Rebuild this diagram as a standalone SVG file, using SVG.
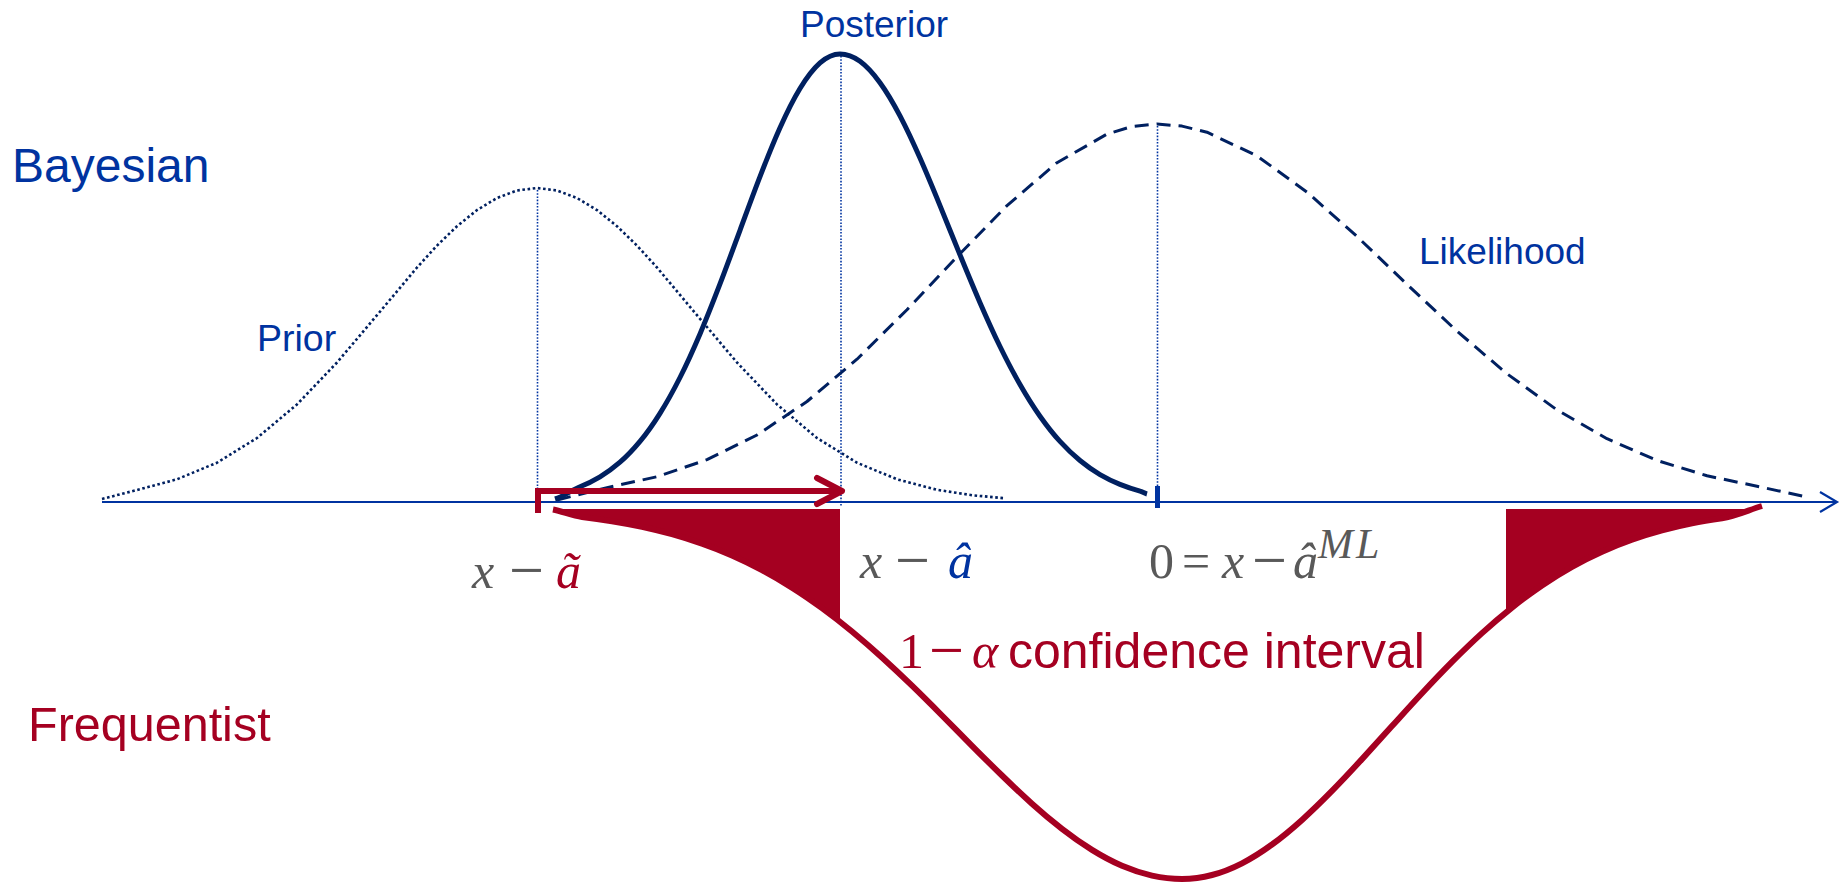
<svg xmlns="http://www.w3.org/2000/svg" width="1845" height="884" viewBox="0 0 1845 884">
<style>
.lbl{font-family:"Liberation Sans",Arial,sans-serif}
.blue{fill:#0033a0}
.red{fill:#a50021}
.math{font-family:"Liberation Serif","DejaVu Serif",serif;font-size:50px;fill:#595959}
.it{font-style:italic}
.minus{font-size:62px}
.curve{fill:none;stroke:#002060;stroke-linejoin:round}
.vdot{stroke:#0033a0;stroke-width:1.6;stroke-dasharray:1.6 1.6;fill:none}
</style>
<rect width="1845" height="884" fill="#ffffff"/>

<g id="axis">
<line x1="102" y1="502" x2="1836" y2="502" stroke="#0033a0" stroke-width="2.2"/>
<path d="M1820,492 L1837,502 L1820,512" fill="none" stroke="#0033a0" stroke-width="2.2"/>
<rect x="1155" y="486" width="5" height="22" fill="#0033a0"/>
</g>

<g id="guides">
<line class="vdot" x1="537.5" y1="190" x2="537.5" y2="488"/>
<line class="vdot" x1="841" y1="56" x2="841" y2="507"/>
<line class="vdot" x1="1157.5" y1="126" x2="1157.5" y2="486"/>
</g>

<g id="frequentist-curve">
<path class="red" d="M553,509.5 C562.7,511.4 572.3,515.8 582,517 C592,518.2 602,519.6 612,521.2 C622,522.8 632,524.7 642,526.8 C652,529 662,531.4 672,534.2 C682,537 692,540.2 702,543.7 C712,547.2 722,551.1 732,555.5 C742,559.9 752,564.8 762,570.1 C772,575.4 782,581.3 792,587.6 C802,593.9 812,600.8 822,608.1 L840,622 L840,509 L556,509 Z"/>
<path class="red" d="M1506,612.7 L1512,607.6 C1522,599.6 1532,592.2 1542,585.4 C1552,578.6 1562,572.4 1572,566.8 C1582,561.2 1592,556.2 1602,551.7 C1612,547.2 1622,543.2 1632,539.7 C1642,536.2 1652,533.1 1662,530.4 C1672,527.7 1682,525.3 1692,523.3 C1702,521.3 1712,519.7 1722,518.2 C1735.3,516.3 1748.7,510 1762,506 L1750,509 L1506,509 Z"/>
<path fill="none" stroke="#a50021" stroke-width="6" stroke-linejoin="round" d="M553,509.5 C562.7,511.4 572.3,515.8 582,517 C592,518.2 602,519.6 612,521.2 C622,522.8 632,524.7 642,526.8 C652,529 662,531.4 672,534.2 C682,537 692,540.2 702,543.7 C712,547.2 722,551.1 732,555.5 C742,559.9 752,564.8 762,570.1 C772,575.4 782,581.3 792,587.6 C802,593.9 812,600.8 822,608.1 C832,615.4 842,623.2 852,631.5 C862,639.8 872,648.4 882,657.5 C892,666.6 902,676 912,685.7 C922,695.4 932,705.4 942,715.5 C952,725.6 962,735.7 972,745.8 C982,755.9 992,765.8 1002,775.5 C1012,785.2 1022,794.8 1032,803.7 C1042,812.7 1052,821.1 1062,828.9 C1072,836.7 1082,843.7 1092,849.9 C1102,856.1 1112,861.5 1122,865.8 C1132,870.1 1142,873.4 1152,875.6 C1162,877.8 1172,879 1182,879 C1192,879 1202,877.7 1212,875 C1222,872.4 1232,868.4 1242,863.3 C1252,858.2 1262,851.8 1272,844.5 C1282,837.2 1292,828.9 1302,819.9 C1312,810.9 1322,801.1 1332,790.9 C1342,780.7 1352,770 1362,759.1 C1372,748.2 1382,737.1 1392,726 C1402,715 1412,703.9 1422,693.2 C1432,682.5 1442,672 1452,661.9 C1462,651.9 1472,642.2 1482,633.1 C1492,624 1502,615.6 1512,607.6 C1522,599.6 1532,592.2 1542,585.4 C1552,578.6 1562,572.4 1572,566.8 C1582,561.2 1592,556.2 1602,551.7 C1612,547.2 1622,543.2 1632,539.7 C1642,536.2 1652,533.1 1662,530.4 C1672,527.7 1682,525.3 1692,523.3 C1702,521.3 1712,519.7 1722,518.2 C1735.3,516.3 1748.7,510 1762,506"/>
</g>

<g id="prior">
<polyline class="curve" stroke-width="2.6" stroke-dasharray="2.6 2.6" points="102,499 137,490 177,479.3 217,462.7 257,438 297,404.4 337,362.5 377,315.2 417,267.5 437,245.6 457,226.2 477,210.1 497,198 517,190.5 537,188 557,190.5 577,198 597,210.1 617,226.2 637,245.6 657,267.5 697,315.2 737,362.5 777,404.4 817,438 857,462.7 897,479.3 937,489.8 972,495.2 1005,498.3"/>
<text class="lbl blue" x="257" y="351" font-size="37.5">Prior</text>
</g>

<g id="likelihood">
<polyline class="curve" stroke-width="3" stroke-dasharray="14 8" points="557,500 607,487.7 657,476.7 707,459.7 757,435 807,401.5 857,359.2 907,309.7 957,256.8 1007,205.6 1057,162.7 1107,134.1 1132,126.5 1157,124 1182,126.1 1207,132.2 1257,155.9 1307,192.1 1357,236.5 1407,284.3 1457,331.2 1507,373.8 1557,409.9 1607,438.7 1657,460.4 1707,475.8 1757,486.2 1807,497"/>
<text class="lbl blue" x="1419" y="264" font-size="37">Likelihood</text>
</g>

<g id="posterior">
<path class="curve" stroke-width="5" d="M555,499 C563.3,496.5 571.7,490.1 580,486.8 C586.7,484.2 593.3,480.9 600,476.9 C606.7,472.9 613.3,468 620,462.2 C626.7,456.4 633.3,449.5 640,441.4 C646.7,433.3 653.3,424 660,413.3 C666.7,402.7 673.3,390.8 680,377.5 C686.7,364.2 693.3,349.6 700,333.9 C706.7,318.2 713.3,301.3 720,283.9 C726.7,266.5 733.3,248.4 740,230.3 C746.7,212.2 753.3,194 760,176.7 C766.7,159.3 773.3,142.8 780,127.8 C786.7,112.8 793.3,99.5 800,88.5 C806.7,77.5 813.3,68.8 820,62.9 C826.7,57.1 833.3,54 840,54 C846.7,54 853.3,56.4 860,61.3 C866.7,66.2 873.3,73.5 880,82.7 C886.7,91.9 893.3,103.1 900,115.9 C906.7,128.7 913.3,142.9 920,158.1 C926.7,173.3 933.3,189.3 940,205.6 C946.7,221.9 953.3,238.6 960,254.9 C966.7,271.2 973.3,287.3 980,302.7 C986.7,318.1 993.3,332.8 1000,346.5 C1006.7,360.2 1013.3,372.9 1020,384.5 C1026.7,396.2 1033.3,406.8 1040,416.2 C1046.7,425.7 1053.3,434.1 1060,441.4 C1066.7,448.8 1073.3,455 1080,460.5 C1086.7,466 1093.3,470.7 1100,474.6 C1106.7,478.5 1113.3,481.7 1120,484.4 C1126.7,487.1 1133.3,489.3 1140,491.1 C1142.3,491.7 1144.7,493.4 1147,494"/>
<text class="lbl blue" x="800" y="37" font-size="37">Posterior</text>
</g>

<g id="connectors">
<path d="M538,513 V491 H838" fill="none" stroke="#a50021" stroke-width="6"/>
<path d="M817,478 L842,491 L817,504" fill="none" stroke="#a50021" stroke-width="6" stroke-linecap="round" stroke-linejoin="round"/>
</g>

<g id="bayesian-label">
<text class="lbl blue" x="12" y="182" font-size="48">Bayesian</text>
</g>

<g id="frequentist-label">
<text class="lbl red" x="28" y="741" font-size="48.5">Frequentist</text>
</g>

<g id="label-prior-estimate">
<text class="math"><tspan class="it" x="472" y="588">x</tspan><tspan class="minus" x="509" y="591">−</tspan><tspan class="it" x="556" y="588" fill="#a50021">ã</tspan></text>
</g>

<g id="label-posterior-estimate">
<text class="math"><tspan class="it" x="860" y="578">x</tspan><tspan class="minus" x="895" y="581">−</tspan><tspan class="it" x="948" y="578" fill="#0033a0">â</tspan></text>
</g>

<g id="label-ml-estimate">
<text class="math"><tspan x="1149" y="578">0</tspan><tspan x="1182" y="578">=</tspan><tspan class="it" x="1222" y="578">x</tspan><tspan class="minus" x="1252" y="581">−</tspan><tspan class="it" x="1293" y="578">â</tspan><tspan class="it" x="1318" y="558" font-size="42" letter-spacing="3">ML</tspan></text>
</g>

<g id="confidence-label">
<text class="math" style="fill:#a50021"><tspan x="899" y="668">1</tspan><tspan class="minus" x="929" y="671">−</tspan><tspan class="it" x="972" y="668">α</tspan></text>
<text class="lbl red" x="1008" y="668" font-size="50">confidence interval</text>
</g>
</svg>
